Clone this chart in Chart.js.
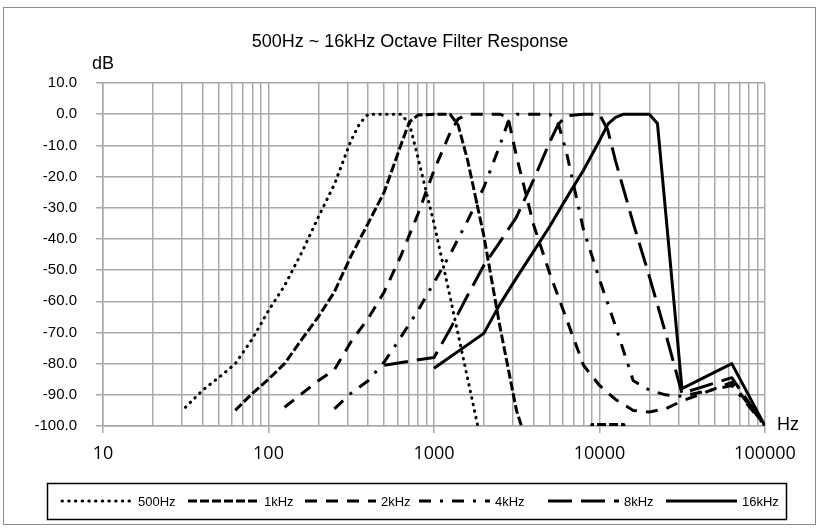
<!DOCTYPE html>
<html>
<head>
<meta charset="utf-8">
<script src="https://cdn.jsdelivr.net/npm/chart.js@4.4.1/dist/chart.umd.min.js"></script>
<style>
  html, body { margin: 0; padding: 0; background: #fff; }
  #wrap { width: 821px; height: 529px; }
</style>
</head>
<body>
<div id="wrap"><canvas id="filterChart" width="821" height="529"></canvas></div>
<script>
// オクターブバンドごとの応答 [Hz] / [dB]
const bandLabels = ['500Hz', '1kHz', '2kHz', '4kHz', '8kHz', '16kHz'];

const freq500 = [31.5, 40, 50, 63, 80, 100, 125, 160, 200, 250, 315, 355, 400, 500, 630, 710, 800, 1000, 1250, 1600, 2000];
const db500   = [-94, -88.5, -84.5, -80, -72, -63, -55, -44, -33, -22.5, -8.5, -3, 0, 0, 0, -3, -14, -35, -58.5, -85, -109];

const freq1k = [63, 80, 100, 125, 160, 200, 250, 315, 400, 500, 630, 710, 800, 1000, 1250, 1400, 1600, 2000, 2500, 3150, 4000, 8000, 9000, 14000, 16000];
const db1k   = [-95, -89.5, -85, -80, -72, -65, -57, -45.5, -35, -25, -10, -2.5, -0.3, 0, 0, -3.5, -15, -39, -68, -95, -112, -112, -99.5, -99.5, -112];

const freq2k = [125, 160, 200, 250, 315, 400, 500, 630, 800, 1000, 1250, 1400, 1600, 2000, 2500, 2800, 3150, 4000, 5000, 6300, 8000, 10000, 12500, 16000, 20000, 25000, 31500, 63000, 100000];
const db2k   = [-94, -89.5, -85.5, -82, -73, -65.5, -57, -45.5, -32, -18, -6, -1.5, 0, 0, 0, -1, -13.5, -35.5, -51, -65.5, -80.5, -87, -91.5, -95, -95.5, -94.5, -92, -86, -100];

const freq4k = [250, 315, 400, 500, 630, 800, 1000, 1250, 1600, 2000, 2500, 2800, 3150, 4000, 5000, 5600, 6300, 8000, 10000, 12500, 16000, 20000, 25000, 31500, 63000, 100000];
const db4k   = [-94.5, -89.5, -85.5, -79.5, -71.5, -63, -54, -45, -34, -23.5, -10, -2.5, 0, 0, 0, -2.5, -12, -37, -53, -68, -85.5, -88.5, -90, -90.5, -87, -100];

const freq8k = [500, 1000, 1250, 1600, 2000, 2500, 3150, 4000, 5000, 5600, 6300, 8000, 10000, 11200, 12500, 16000, 20000, 25000, 31500, 63000, 100000];
const db8k   = [-80.5, -78, -69, -58, -48.5, -41, -33, -21, -9, -3.5, -0.5, 0, 0, -5, -15, -35, -52, -70, -89.5, -84.5, -100];

const freq16k = [1000, 2000, 2500, 3150, 4000, 5000, 6300, 8000, 10000, 11300, 12500, 14000, 16000, 20000, 22400, 31500, 63000, 100000];
const db16k   = [-81.5, -70.3, -61, -52.5, -44, -36, -27, -18, -8.5, -3, -1, 0, 0, 0, -3, -88, -80, -100];

const xTickLabels = ['10', '100', '1000', '10000', '100000'];

const titleText = '500Hz ~ 16kHz Octave Filter Response';

// 線種（Excel の丸点線・破線・一点鎖線などに相当）
const lineStyles = [
    { dash: [0.5, 6.2], cap: 'round' },
    { dash: [9, 3], cap: 'butt' },
    { dash: [12, 9], cap: 'butt' },
    { dash: [12, 9, 3, 9], cap: 'butt' },
    { dash: [24, 9], cap: 'butt' },
    { dash: [], cap: 'butt' }
];

const seriesFreq = [freq500, freq1k, freq2k, freq4k, freq8k, freq16k];
const seriesDb = [db500, db1k, db2k, db4k, db8k, db16k];

const gridColor = '#a9a9a9';

// 対数軸の目盛り（各ディケードの 1〜9 倍）
function buildLogTicks() {
    const ticks = [];
    for (let e = 1; e <= 4; e++) {
        for (let m = 1; m <= 9; m++) {
            ticks.push({ value: m * Math.pow(10, e), major: m === 1 });
        }
    }
    ticks.push({ value: 100000, major: true });
    return ticks;
}

const decor = {
    id: 'decor',
    beforeDraw(chart) {
        const ctx = chart.ctx;
        ctx.save();
        ctx.fillStyle = '#fff';
        ctx.fillRect(0, 0, chart.width, chart.height);
        ctx.restore();
    },
    afterDraw(chart) {
        const ctx = chart.ctx;
        ctx.save();

        // 外枠
        ctx.strokeStyle = '#8a8a8a';
        ctx.lineWidth = 1;
        ctx.strokeRect(3.5, 7.5, 812, 517);

        // タイトル
        ctx.fillStyle = '#000';
        ctx.textAlign = 'center';
        ctx.textBaseline = 'middle';
        ctx.font = '18px "Liberation Sans", sans-serif';
        ctx.fillText(titleText, 410, 42);

        // 軸単位
        ctx.font = '18px "Liberation Sans", sans-serif';
        ctx.fillText('dB', 103, 64);
        ctx.textAlign = 'left';
        ctx.fillText('Hz', 777, 425);

        // 凡例
        ctx.strokeStyle = '#000';
        ctx.lineWidth = 1.5;
        ctx.strokeRect(47.5, 483.5, 739, 36);

        const starts = [62, 188, 305, 419, 548, 666];
        const ly = 501;
        ctx.font = '13px "Liberation Sans", sans-serif';
        chart.data.datasets.forEach((ds, i) => {
            const x0 = starts[i];
            ctx.beginPath();
            ctx.lineWidth = ds.borderWidth;
            ctx.setLineDash(ds.borderDash);
            ctx.lineCap = ds.borderCapStyle;
            ctx.moveTo(x0, ly);
            ctx.lineTo(x0 + 71, ly);
            ctx.stroke();
            ctx.setLineDash([]);
            ctx.fillText(ds.label, x0 + 76, ly + 1);
        });

        ctx.restore();
    }
};

const datasets = bandLabels.map((label, i) => ({
    label: label,
    data: seriesFreq[i].map((f, j) => ({ x: f, y: seriesDb[i][j] })),
    borderColor: '#000',
    backgroundColor: '#000',
    borderWidth: 3,
    borderDash: lineStyles[i].dash,
    borderCapStyle: lineStyles[i].cap,
    borderJoinStyle: 'round',
    pointRadius: 0,
    tension: 0,
    fill: false
}));

new Chart(document.getElementById('filterChart'), {
    type: 'line',
    data: { datasets },
    options: {
        responsive: false,
        animation: false,
        devicePixelRatio: 1,
        layout: { padding: { left: 0, right: 56, top: 83, bottom: 0 } },
        plugins: {
            legend: { display: false },
            title: { display: false },
            tooltip: { enabled: false }
        },
        scales: {
            x: {
                type: 'logarithmic',
                min: 10,
                max: 100000,
                afterBuildTicks: scale => { scale.ticks = buildLogTicks(); },
                afterFit: scale => { scale.height = 103; },
                grid: {
                    color: gridColor,
                    lineWidth: 1.5,
                    drawTicks: true,
                    tickLength: 7,
                    tickColor: c => (c.tick && c.tick.major) ? gridColor : 'rgba(0,0,0,0)'
                },
                border: { color: gridColor, width: 1.5 },
                ticks: {
                    autoSkip: false,
                    maxRotation: 0,
                    padding: 10,
                    color: '#000',
                    font: { family: '"Open Sans", sans-serif', size: 18 },
                    callback: v => {
                        const e = Math.round(Math.log10(v));
                        return Math.abs(Math.pow(10, e) - v) < 1e-6 ? xTickLabels[e - 1] : '';
                    }
                }
            },
            y: {
                min: -100,
                max: 10,
                afterFit: scale => { scale.width = 103; },
                grid: {
                    color: gridColor,
                    lineWidth: 1.5,
                    drawTicks: true,
                    tickLength: 7,
                    tickColor: gridColor
                },
                border: { color: gridColor, width: 1.5 },
                ticks: {
                    stepSize: 10,
                    padding: 19,
                    color: '#000',
                    font: { family: '"Liberation Sans", sans-serif', size: 15 },
                    callback: v => v.toFixed(1)
                }
            }
        }
    },
    plugins: [decor]
});
</script>
</body>
</html>
